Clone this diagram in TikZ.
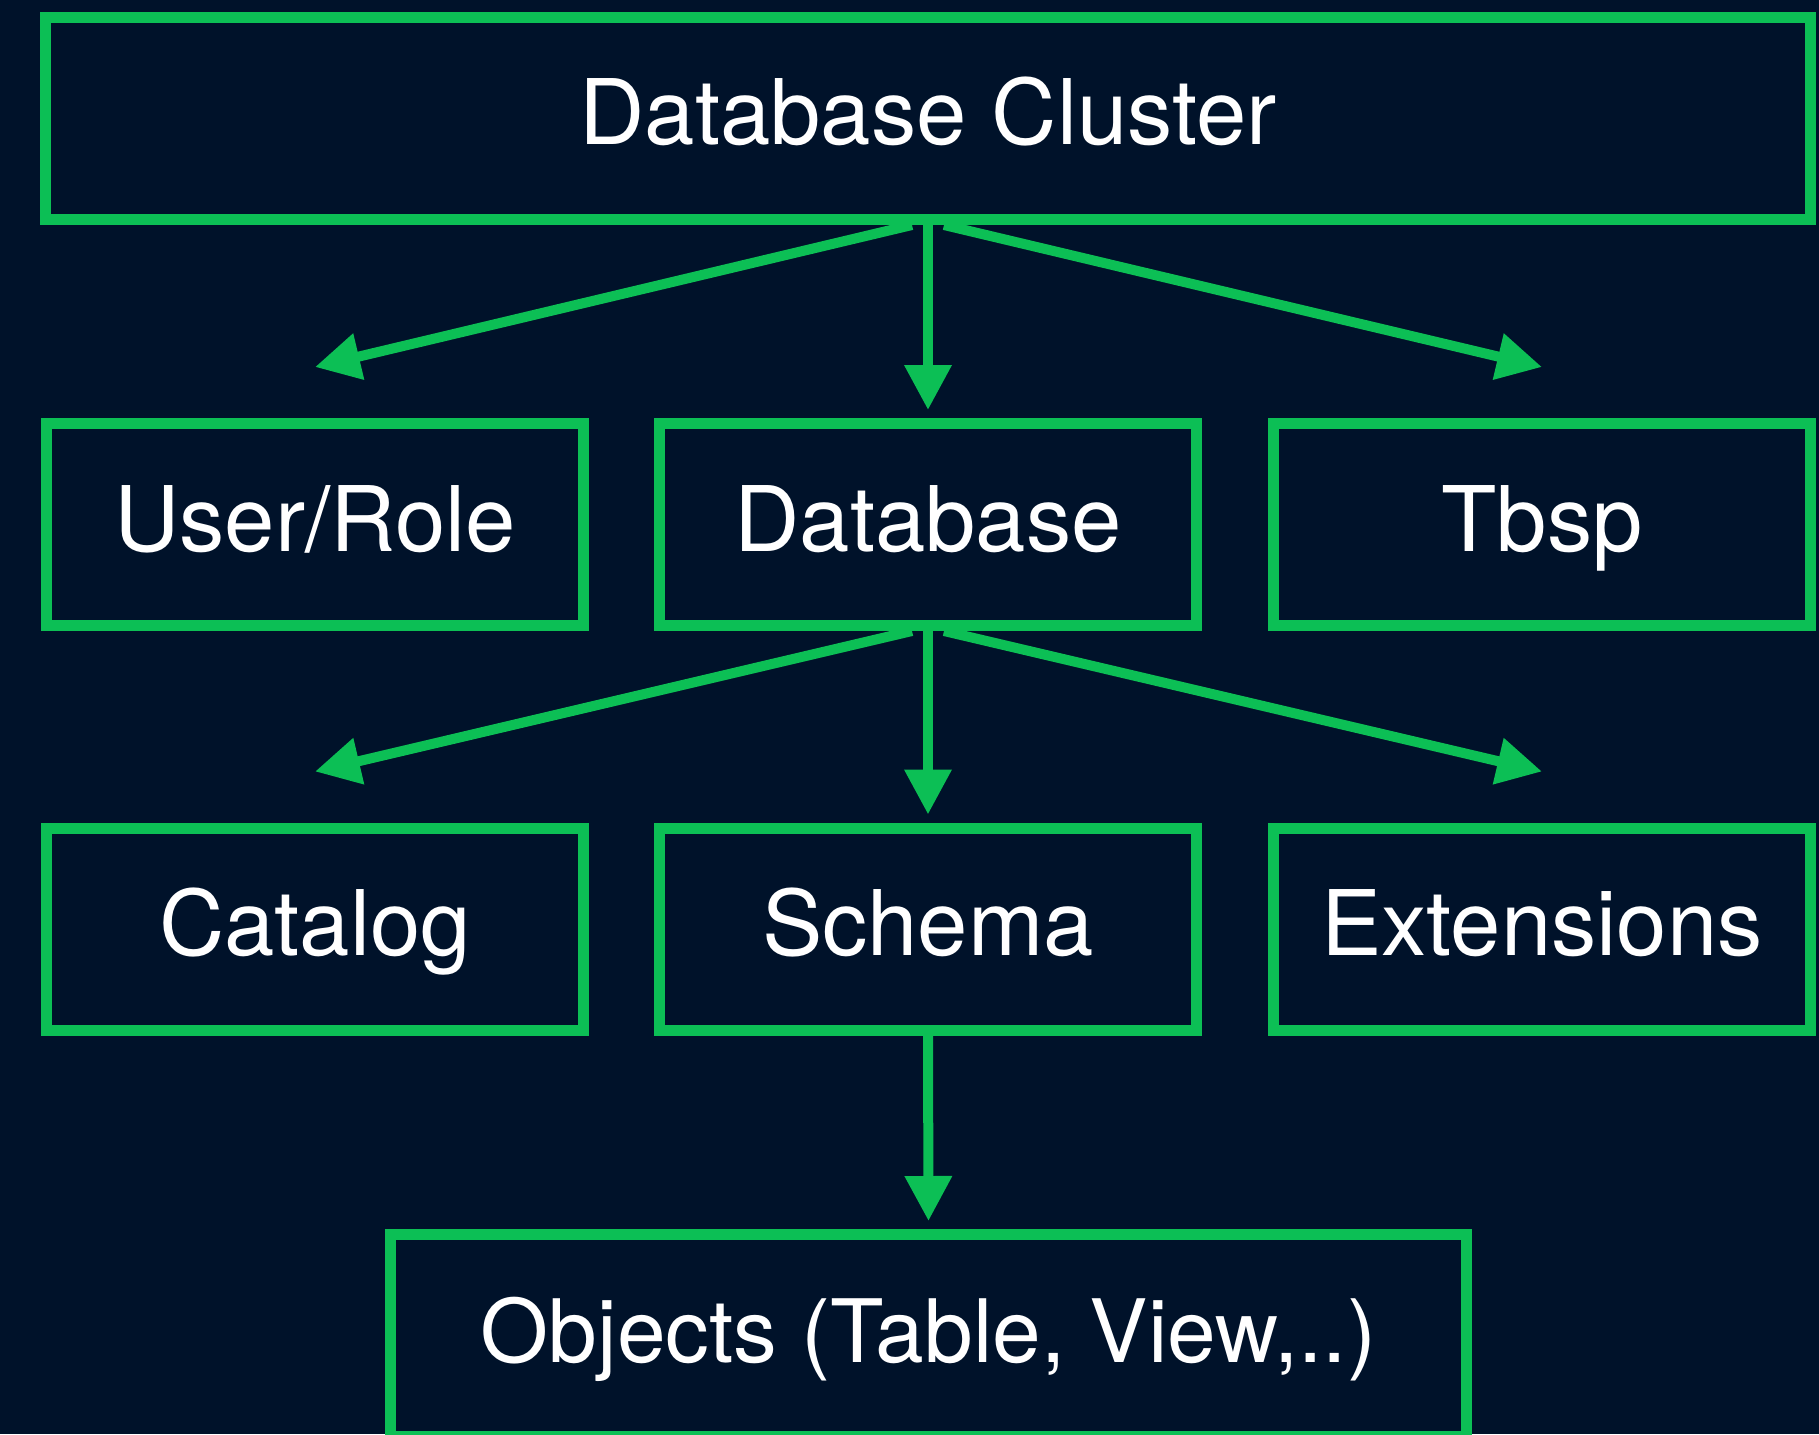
\documentclass[tikz,border=0pt]{standalone}
\usepackage{fontspec}
\setmainfont{TeX Gyre Heros}
\usetikzlibrary{arrows.meta}
\definecolor{bgc}{RGB}{0,18,42}
\definecolor{grn}{RGB}{12,191,85}
\begin{document}
\begin{tikzpicture}[x=1pt,y=-1pt,
  box/.style={draw=grn, line width=11pt, minimum width=537pt, minimum height=202pt,
    inner sep=0pt, text=white, font=\fontsize{90.5}{100}\selectfont,
    text height=65pt, text depth=12pt},
  arr/.style={draw=grn, line width=10pt, -{Triangle[length=45pt,width=45pt]}}]
\fill[bgc] (0,0) rectangle (1819,1434);
\useasboundingbox (0,0) rectangle (1819,1434);
\clip (0,0) rectangle (1819,1434);
\node[box, minimum width=1765pt] (clu) at (928,118.5) {Database Cluster};
\node[box] (usr) at (315,524.5) {User/Role};
\node[box] (db) at (928,524.5) {Database};
\node[box] (tb) at (1542,524.5) {Tbsp};
\node[box] (cat) at (315,929) {Catalog};
\node[box] (sch) at (928,929) {Schema};
\node[box] (ext) at (1542,929) {Extensions};
\node[box, minimum width=1076pt, font=\fontsize{87.5}{100}\selectfont] (obj) at (928.5,1335.5) {Objects (Table, View,..)};
\draw[arr] (clu.south) -- ([yshift=8pt]db.north);
\draw[arr] ([xshift=-16pt]clu.south) -- ([yshift=51pt]usr.north);
\draw[arr] ([xshift=16pt]clu.south) -- ([yshift=51pt]tb.north);
\draw[arr] (db.south) -- ([yshift=8pt]sch.north);
\draw[arr] ([xshift=-16pt]db.south) -- ([yshift=51pt]cat.north);
\draw[arr] ([xshift=16pt]db.south) -- ([yshift=51pt]ext.north);
\draw[arr] (sch.south) -- ([yshift=8pt]obj.north);
\end{tikzpicture}
\end{document}
